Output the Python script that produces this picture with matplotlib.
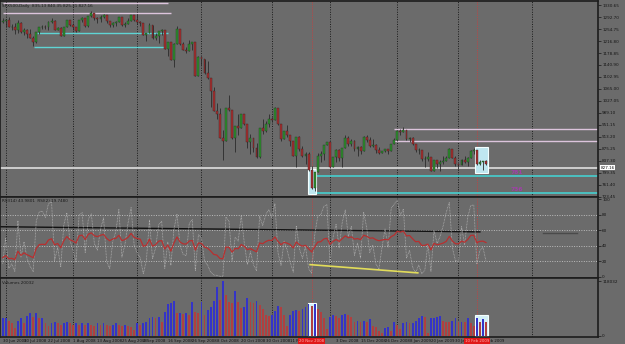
import numpy as np
import matplotlib
matplotlib.use("Agg")
import matplotlib.pyplot as plt
from matplotlib.patches import Rectangle
import matplotlib.transforms as mtransforms

W, H = 625, 344
BG = "#6b6b6b"

# daily bars 30 Jun 2008 .. 13 Feb 2009
opens = [1278, 1280, 1285, 1262, 1263, 1252, 1274, 1245, 1253, 1239, 1228, 1215, 1245, 1260, 1261, 1260,
         1277, 1282, 1253, 1258, 1234, 1263, 1284, 1267, 1260, 1249, 1285, 1289, 1266, 1296, 1305, 1290,
         1286, 1293, 1298, 1279, 1267, 1275, 1278, 1292, 1267, 1272, 1282, 1301, 1283, 1278, 1275, 1237,
         1242, 1268, 1225, 1232, 1249, 1252, 1193, 1214, 1156, 1207, 1255, 1207, 1188, 1186, 1209, 1213,
         1106, 1166, 1161, 1114, 1099, 1057, 996, 985, 910, 899, 1003, 998, 908, 946, 941, 985,
         955, 897, 908, 877, 849, 941, 930, 954, 969, 966, 1006, 953, 905, 931, 919, 899,
         852, 911, 873, 851, 859, 807, 752, 800, 852, 857, 888, 896, 816, 849, 871, 845,
         876, 910, 889, 899, 874, 880, 869, 913, 904, 885, 888, 872, 863, 868, 873, 869,
         891, 903, 932, 927, 935, 907, 910, 890, 870, 872, 843, 844, 850, 805, 840, 828,
         832, 837, 846, 874, 845, 826, 825, 839, 832, 846, 869, 870, 827, 834, 835]
highs = [1290, 1285, 1292, 1272, 1273, 1285, 1277, 1257, 1254, 1254, 1234, 1246, 1263, 1269, 1268, 1279,
         1291, 1283, 1263, 1260, 1263, 1284, 1285, 1273, 1260, 1285, 1292, 1289, 1297, 1313, 1305, 1294,
         1300, 1302, 1301, 1279, 1277, 1280, 1293, 1292, 1276, 1289, 1301, 1301, 1303, 1281, 1275, 1244,
         1275, 1268, 1243, 1249, 1255, 1252, 1214, 1214, 1211, 1265, 1255, 1214, 1197, 1221, 1215, 1213,
         1169, 1167, 1161, 1153, 1099, 1072, 1021, 1005, 936, 1006, 1045, 998, 947, 985, 985, 985,
         955, 922, 908, 893, 941, 969, 963, 984, 975, 1007, 1006, 953, 931, 951, 919, 899,
         912, 917, 883, 866, 864, 821, 801, 862, 868, 888, 897, 896, 850, 875, 875, 879,
         918, 917, 905, 904, 883, 884, 915, 918, 912, 905, 889, 880, 869, 873, 873, 891,
         910, 934, 937, 943, 935, 911, 911, 890, 878, 872, 851, 864, 850, 841, 840, 838,
         852, 852, 877, 874, 852, 826, 843, 851, 850, 871, 878, 871, 838, 835, 840]
lows = [1274, 1260, 1261, 1252, 1240, 1243, 1244, 1237, 1225, 1226, 1200, 1211, 1240, 1254, 1255, 1252,
        1274, 1251, 1251, 1234, 1234, 1262, 1265, 1252, 1246, 1249, 1276, 1261, 1263, 1292, 1285, 1274,
        1276, 1290, 1274, 1261, 1262, 1264, 1278, 1264, 1263, 1271, 1282, 1282, 1272, 1264, 1236, 1217,
        1242, 1224, 1221, 1211, 1236, 1192, 1169, 1156, 1134, 1207, 1205, 1187, 1180, 1186, 1187, 1106,
        1106, 1140, 1111, 1098, 1007, 996, 970, 909, 840, 899, 995, 907, 866, 918, 941, 952,
        877, 858, 865, 846, 845, 922, 928, 944, 959, 966, 952, 899, 905, 913, 885, 852,
        818, 869, 848, 826, 806, 747, 741, 800, 834, 841, 886, 815, 816, 833, 837, 818,
        876, 883, 883, 868, 851, 860, 869, 895, 880, 881, 862, 860, 861, 866, 857, 869,
        889, 899, 919, 927, 903, 896, 888, 864, 857, 837, 818, 837, 805, 805, 815, 804,
        828, 835, 846, 845, 821, 812, 822, 829, 819, 846, 860, 822, 823, 808, 825]
closes = [1280, 1285, 1262, 1263, 1252, 1274, 1245, 1253, 1239, 1228, 1215, 1245, 1260, 1261, 1260, 1277,
          1282, 1253, 1258, 1234, 1263, 1284, 1267, 1260, 1249, 1285, 1289, 1266, 1296, 1305, 1290, 1286,
          1293, 1298, 1279, 1267, 1275, 1278, 1292, 1267, 1272, 1282, 1301, 1283, 1278, 1275, 1237, 1242,
          1268, 1225, 1232, 1249, 1252, 1193, 1214, 1156, 1207, 1255, 1207, 1188, 1186, 1209, 1213, 1106,
          1166, 1161, 1114, 1099, 1057, 996, 985, 910, 899, 1003, 998, 908, 946, 941, 985, 955,
          897, 908, 877, 849, 941, 930, 954, 969, 966, 1006, 953, 905, 931, 919, 899, 852,
          911, 873, 851, 859, 807, 752, 800, 852, 857, 888, 896, 816, 849, 871, 845, 876,
          910, 889, 899, 874, 880, 869, 913, 904, 885, 888, 872, 863, 868, 873, 869, 891,
          903, 932, 927, 935, 907, 910, 890, 870, 872, 843, 844, 850, 805, 840, 828, 832,
          837, 846, 874, 845, 826, 825, 839, 832, 846, 869, 870, 827, 834, 835, 827]
# closes before the first bar, only used to start the RSI
warmup_closes = [1361.8, 1358.4, 1335.5, 1339.9, 1360.0, 1360.1, 1350.9, 1337.8, 1342.8,
                 1317.9, 1318.0, 1314.3, 1322.0, 1283.2, 1278.4]
# volume in thousands
volumes = [38, 38, 33, 27, 18, 33, 38, 27, 42, 49, 40, 49, 38, 38, 27, 22,
           27, 29, 27, 24, 27, 29, 27, 24, 27, 24, 27, 24, 27, 24, 22, 27,
           24, 27, 24, 22, 24, 27, 24, 22, 24, 22, 20, 13, 27, 24, 27, 31,
           38, 40, 38, 40, 29, 51, 69, 71, 76, 49, 49, 47, 49, 45, 73, 51,
           49, 73, 45, 56, 62, 76, 105, 78, 118, 89, 73, 71, 96, 73, 60, 62,
           82, 73, 71, 76, 67, 58, 45, 42, 45, 53, 65, 62, 45, 22, 45, 53,
           56, 53, 58, 62, 69, 65, 69, 58, 51, 38, 16, 40, 45, 42, 38, 45,
           47, 45, 40, 29, 33, 31, 33, 31, 36, 22, 20, 11, 7, 18, 20, 11,
           29, 24, 16, 27, 31, 27, 27, 33, 38, 42, 40, 7, 38, 38, 40, 42,
           33, 31, 29, 33, 38, 31, 31, 29, 38, 27, 22, 38, 29, 36, 29]

tick_pos = [0, 7, 15, 23, 31, 39, 46, 54, 62, 70, 78, 86, 94, 109, 117, 125, 133, 140, 148, 156]
tick_text = ["30 Jun 2008", "10 Jul 2008", "22 Jul 2008", "1 Aug 2008", "13 Aug 2008", "25 Aug 2008",
             "4 Sep 2008", "16 Sep 2008", "26 Sep 2008", "8 Oct 2008", "20 Oct 2008", "30 Oct 2008",
             "11 Nov 2008", "3 Dec 2008", "15 Dec 2008", "26 Dec 2008", "8 Jan 2009", "20 Jan 2009",
             "30 Jan 2009", "11 Feb 2009"]
month_grid = [1, 23, 44, 65, 88, 107, 129, 149, 173]
price_ticks = [1330.65, 1292.70, 1254.75, 1216.80, 1178.85, 1140.90, 1102.95, 1065.00, 1027.05,
               989.10, 951.15, 913.20, 875.25, 837.30, 799.35, 761.40, 723.45]

n = len(closes)
idx = np.arange(n)
XMIN, XMAX = -0.85, 194.6


def px_rect(x0, y0, x1, y1):
    return [x0 / W, 1 - y1 / H, (x1 - x0) / W, (y1 - y0) / H]


def rsi(values, period):
    values = np.asarray(values, dtype=float)
    d = np.diff(values)
    up = np.where(d > 0, d, 0.0)
    dn = np.where(d < 0, -d, 0.0)
    out = np.full(len(values), np.nan)
    au = up[:period].mean()
    ad = dn[:period].mean()
    out[period] = 100 - 100 / (1 + au / ad) if ad > 0 else 100
    for k in range(period, len(d)):
        au = (au * (period - 1) + up[k]) / period
        ad = (ad * (period - 1) + dn[k]) / period
        out[k + 1] = 100 - 100 / (1 + au / ad) if ad > 0 else 100
    return out


fig = plt.figure(figsize=(W / 100, H / 100), dpi=100, facecolor=BG)
ax = fig.add_axes(px_rect(0, 1, 598, 197))
ax_rsi = fig.add_axes(px_rect(0, 197, 598, 278))
ax_vol = fig.add_axes(px_rect(0, 278, 598, 337))

for a in (ax, ax_rsi, ax_vol):
    a.set_facecolor(BG)
    a.set_xlim(XMIN, XMAX)
    a.yaxis.tick_right()
    a.tick_params(axis="y", labelsize=3.0, length=2, pad=1, colors="#151515", width=0.5)
    for s in a.spines.values():
        s.set_color("#1c1c1c")
        s.set_linewidth(1.2)
    a.vlines(month_grid, 0, 1, transform=a.get_xaxis_transform(), colors="#1a1a1a",
             linestyles=(0, (1, 1.5)), linewidth=0.7, zorder=1)
    a.vlines([101, 155], 0, 1, transform=a.get_xaxis_transform(), colors="#c84040",
             linestyles=(0, (1, 1.2)), linewidth=0.6, zorder=1)

# ---- price panel
ax.set_ylim(722, 1344)
ax.set_yticks(price_ticks)
ax.set_yticklabels([f"{v:.2f}" for v in price_ticks])
ax.set_xticks([])

ax.hlines([1338.5, 1305.7], [0, 0], [54, 55], colors="#dcc4dc", linewidth=1.0, zorder=2)
ax.hlines([1241.9, 1198.2], [11.2, 10.3], [54, 53], colors="#5fd4d4", linewidth=1.0, zorder=2)
ax.hlines([938.8, 900.5], 128, XMAX, colors="#dcc4dc", linewidth=1.0, zorder=2)
ax.hlines(815.4, XMIN, XMAX, colors="#d6d6d6", linewidth=1.3, zorder=2)
ax.hlines([788.9, 733.7], 101.4, XMAX, colors="#48c8c8", linewidth=1.3, zorder=2)
ax.text(168, 792, "781", color="#a040a8", fontsize=4.3, fontweight="bold", ha="center", va="bottom")
ax.text(168, 737, "736", color="#a040a8", fontsize=4.3, fontweight="bold", ha="center", va="bottom")

for (x0, x1, p0, p1) in [(99.8, 102.5, 731, 811), (154.4, 158.6, 798.5, 881.4)]:
    ax.add_patch(Rectangle((x0, p0), x1 - x0, p1 - p0, facecolor="#bfe7f0",
                           edgecolor="#f4ffff", linewidth=0.8, zorder=2))

o = np.array(opens)
c = np.array(closes)
up = c >= o
ax.vlines(idx, lows, highs, colors="#2b2b2b", linewidth=0.6, zorder=3)
ax.bar(idx[up], (c - o)[up], bottom=o[up], width=0.62, color="#2f8f2f",
       edgecolor="#1f3f1f", linewidth=0.3, zorder=4)
ax.bar(idx[~up], (o - c)[~up], bottom=c[~up], width=0.62, color="#a83030",
       edgecolor="#3f1f1f", linewidth=0.3, zorder=4)

ax.text(0.004, 0.985, "SPX500,Daily  835.13 840.35 825.31 827.16", transform=ax.transAxes,
        fontsize=3.0, color="#1a1a1a", ha="left", va="top")
trans = mtransforms.blended_transform_factory(ax.transAxes, ax.transData)
ax.text(1.004, 815.4, "827.16", transform=trans, fontsize=3.0, color="#111111", ha="left",
        va="center", bbox=dict(boxstyle="square,pad=0.15", facecolor="white", edgecolor="none"),
        clip_on=False, zorder=6)

# ---- RSI panel
all_closes = warmup_closes + closes
rsi14 = rsi(all_closes, 14)[len(warmup_closes):]
rsi2 = rsi(all_closes, 2)[len(warmup_closes):]
ax_rsi.set_ylim(-1.7, 102.6)
ax_rsi.set_yticks([100, 80, 60, 40, 20, 0])
ax_rsi.set_yticklabels(["100", "80", "60", "40", "20", "0"])
ax_rsi.set_xticks([])
ax_rsi.hlines([80, 60, 40, 20], XMIN, XMAX, colors="#bdbdbd", linestyles=(0, (1, 1.5)),
              linewidth=0.7, zorder=1)
ax_rsi.plot([XMIN, 156], [64.3, 57.7], color="#111111", linewidth=1.0, zorder=2)
ax_rsi.plot([176.6, 187.7], [56.6, 56.6], color="#4a4a4a", linewidth=1.0, zorder=2)
ax_rsi.plot(idx, rsi2, color="#b4b4b4", linewidth=0.55, linestyle=(0, (1, 1)), zorder=3)
ax_rsi.plot(idx, rsi14, color="#b83030", linewidth=0.9, zorder=4)
ax_rsi.plot([100.5, 135.7], [15.5, 4.9], color="#e2dc5a", linewidth=1.2, zorder=4)
ax_rsi.text(0.004, 0.97, f"RSI(14) {rsi14[-1]:.4f}  RSI(2) {rsi2[-1]:.4f}", transform=ax_rsi.transAxes,
            fontsize=3.0, color="#1a1a1a", ha="left", va="top")

# ---- volume panel
vol = np.array(volumes, dtype=float)
rising = np.concatenate([[True], vol[1:] >= vol[:-1]])
ax_vol.set_ylim(-2.2, 124.7)
ax_vol.set_yticks([118.032, 0])
ax_vol.set_yticklabels(["118032", "0"])
for (x0, x1, top) in [(99.8, 102.5, 71), (154.4, 158.6, 44.5)]:
    ax_vol.add_patch(Rectangle((x0, 0), x1 - x0, top, facecolor="#d2f0f6",
                               edgecolor="#f4ffff", linewidth=0.8, zorder=2))
ax_vol.bar(idx[rising], vol[rising], width=0.6, color="#3434c8", zorder=3)
ax_vol.bar(idx[~rising], vol[~rising], width=0.6, color="#b04040", zorder=3)
ax_vol.text(0.004, 0.95, "Volumes 20032", transform=ax_vol.transAxes,
            fontsize=3.0, color="#1a1a1a", ha="left", va="top")
ax_vol.set_xticks(tick_pos)
ax_vol.set_xticklabels(tick_text, ha="left")
ax_vol.tick_params(axis="x", labelsize=2.8, length=0, pad=1.5, colors="#151515")
for xpos, label in [(101, "20 Nov 2008"), (155, "10 Feb 2009")]:
    ax_vol.text(xpos, -0.035, label, transform=ax_vol.get_xaxis_transform(), fontsize=2.8,
                color="#ffb0b0", ha="center", va="top", zorder=6, clip_on=False,
                bbox=dict(boxstyle="square,pad=0.25", facecolor="#e01818", edgecolor="none"))

fig.savefig("out.png", dpi=100, facecolor=BG)
